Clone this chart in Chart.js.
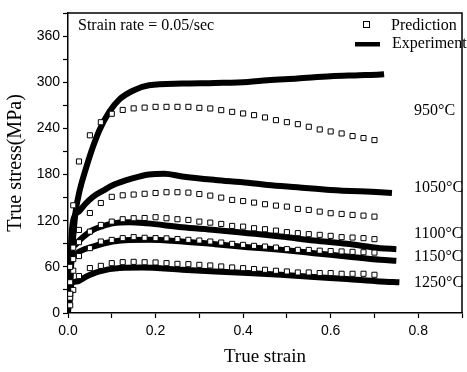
<!DOCTYPE html>
<html>
<head>
<meta charset="utf-8">
<script src="https://cdn.jsdelivr.net/npm/chart.js@4/dist/chart.umd.min.js"></script>
<style>
  html, body { margin: 0; padding: 0; background: #fff; }
  #wrap { width: 467px; height: 372px; }
</style>
</head>
<body>
<div id="wrap"><canvas id="c" width="467" height="372"></canvas></div>
<script>
// ---- Data ----
const temperatures = ['950°C', '1050°C', '1100°C', '1150°C', '1250°C'];

// Experiment curves (strain, stress)
const exp950Strain  = [0, 0.004, 0.008, 0.012, 0.017, 0.027, 0.04, 0.057, 0.072, 0.095, 0.118, 0.148, 0.185, 0.261, 0.336, 0.411, 0.456, 0.524, 0.6, 0.665, 0.713, 0.722];
const exp950Stress  = [0, 30, 70, 100, 130, 160, 186, 216, 238, 262, 278, 289, 296, 298.3, 299.1, 300.4, 302.6, 304.8, 307.8, 309, 310, 310.5];

const exp1050Strain = [0.003, 0.008, 0.015, 0.025, 0.04, 0.057, 0.08, 0.102, 0.13, 0.16, 0.185, 0.22, 0.261, 0.336, 0.411, 0.456, 0.524, 0.6, 0.713, 0.74];
const exp1050Stress = [20, 100, 126, 132, 142, 151, 159, 166, 172, 177, 180, 181, 177.5, 173, 169.4, 166.4, 163.4, 160, 156.9, 156];

const exp1100Strain = [0.003, 0.008, 0.015, 0.027, 0.057, 0.08, 0.102, 0.14, 0.18, 0.261, 0.336, 0.411, 0.486, 0.562, 0.637, 0.713, 0.75];
const exp1100Stress = [20, 82, 88, 95, 108, 113, 116.5, 118, 116.5, 111.5, 108, 103.8, 99.4, 94.2, 89.9, 84.3, 83];

const exp1150Strain = [0.003, 0.008, 0.015, 0.027, 0.057, 0.102, 0.14, 0.185, 0.261, 0.336, 0.411, 0.486, 0.562, 0.637, 0.713, 0.75];
const exp1150Stress = [15, 70, 75, 80, 86.4, 92.9, 95, 95.1, 92.9, 89.5, 85.6, 82.1, 77.8, 73.4, 69.1, 68];

const exp1250Strain = [0.003, 0.008, 0.02, 0.042, 0.072, 0.118, 0.17, 0.261, 0.336, 0.411, 0.486, 0.562, 0.637, 0.713, 0.757];
const exp1250Stress = [10, 38, 41, 47.5, 54, 58.4, 59, 56.2, 54, 51.9, 49.7, 46.7, 44.1, 41, 40];

// Prediction points share one strain list
const predStrain = [0.005, 0.012, 0.025, 0.05, 0.075, 0.1, 0.125, 0.15, 0.175, 0.2, 0.225, 0.25, 0.275, 0.3, 0.325, 0.35, 0.375, 0.4, 0.425, 0.45, 0.475, 0.5, 0.525, 0.55, 0.575, 0.6, 0.625, 0.65, 0.675, 0.7];
const pred950  = [60, 140, 197, 231, 248, 259, 264, 266, 267, 268, 268, 268, 268, 266.7, 265.9, 263.7, 261.5, 259.4, 257.2, 254.2, 250.7, 248.1, 245.5, 242.1, 238.6, 236.0, 233.4, 230.0, 227.4, 224.8];
const pred1050 = [40, 85, 108, 130, 143, 151, 153, 154, 155, 156, 157, 157, 156.5, 154.7, 152.6, 150, 147, 145.5, 143.5, 141.4, 139.6, 138.3, 135.3, 134, 131.8, 129.7, 128.8, 127.5, 126.6, 125.3];
const pred1100 = [25, 70, 92, 105.8, 114.5, 118.8, 121.9, 123.2, 123.5, 124.5, 123.2, 121.9, 121.0, 118.8, 117.5, 115.8, 113.2, 112.3, 110.2, 108.9, 107.1, 105.1, 103.8, 102.5, 101.6, 100.3, 98.6, 98.1, 97.3, 96.0];
const pred1150 = [20, 55, 74, 84.3, 92.9, 95, 97.3, 98.6, 97.8, 97.3, 97, 96.1, 95.1, 94.2, 92.9, 91.6, 89.9, 88.6, 87.3, 86.4, 85.1, 83, 82.1, 82, 81, 80.5, 80, 79.5, 79, 78.5];
const pred1250 = [10, 30, 48, 58.4, 61.3, 64.8, 66.1, 66.5, 66, 65.7, 64.8, 63.9, 63.5, 62.6, 61.8, 60.5, 59.2, 58.3, 57.1, 56.2, 54.9, 54, 52.7, 52.7, 51.9, 51.9, 51, 51, 51, 49.7];

const xTickLabels = ['0.0', '0.2', '0.4', '0.6', '0.8'];
const yTickLabels = [0, 60, 120, 180, 240, 300, 360];

// ---- Build datasets ----
function pts(xs, ys) { return xs.map((x, i) => ({ x: x, y: ys[i] })); }

const expSets = [
  [exp950Strain, exp950Stress], [exp1050Strain, exp1050Stress], [exp1100Strain, exp1100Stress],
  [exp1150Strain, exp1150Stress], [exp1250Strain, exp1250Stress]
];
const predSets = [pred950, pred1050, pred1100, pred1150, pred1250];

const datasets = [];
predSets.forEach((ys, i) => {
  datasets.push({
    label: 'Prediction ' + temperatures[i],
    data: pts(predStrain, ys),
    showLine: false,
    pointStyle: 'rect',
    pointRadius: 3.6,
    pointBorderWidth: 1,
    pointBorderColor: '#000',
    pointBackgroundColor: '#fff',
    order: 0
  });
});
expSets.forEach((s, i) => {
  datasets.push({
    label: 'Experiment ' + temperatures[i],
    data: pts(s[0], s[1]),
    showLine: true,
    borderColor: '#000',
    borderWidth: 6,
    pointRadius: 0,
    cubicInterpolationMode: 'monotone',
    order: 1
  });
});

// ---- Annotation / legend / frame plugin ----
const deco = {
  id: 'deco',
  afterDraw(chart) {
    const ctx = chart.ctx;
    const a = chart.chartArea;
    ctx.save();
    // frame top and right
    ctx.strokeStyle = '#000';
    ctx.lineWidth = 1.5;
    ctx.beginPath();
    ctx.moveTo(a.left, a.top);
    ctx.lineTo(a.right, a.top);
    ctx.lineTo(a.right, a.bottom);
    ctx.stroke();

    ctx.fillStyle = '#000';
    ctx.textBaseline = 'alphabetic';
    ctx.textAlign = 'left';
    ctx.font = '16px "Liberation Serif"';
    ctx.fillText('Strain rate = 0.05/sec', 78, 30);

    // legend
    ctx.lineWidth = 1;
    ctx.fillStyle = '#fff';
    ctx.fillRect(363.5, 21.5, 6, 6);
    ctx.strokeRect(363.5, 21.5, 6, 6);
    ctx.fillStyle = '#000';
    ctx.fillText('Prediction', 391, 30);
    ctx.fillRect(355, 42, 25, 4.5);
    ctx.fillText('Experiment', 392, 48);

    // temperature labels
    const labelPos = [115, 192, 238, 261, 287];
    temperatures.forEach((t, i) => {
      ctx.fillText(t, 414, labelPos[i]);
    });
    ctx.restore();
  }
};

new Chart(document.getElementById('c'), {
  type: 'scatter',
  data: { datasets: datasets },
  plugins: [deco],
  options: {
    responsive: false,
    devicePixelRatio: 1,
    animation: false,
    layout: { padding: { left: 0, right: 1, top: 13, bottom: 0 } },
    plugins: { legend: { display: false }, tooltip: { enabled: false } },
    scales: {
      x: {
        type: 'linear',
        min: 0, max: 0.9,
        afterFit(s) { s.height = 59; },
        border: { display: true, color: '#000', width: 1.5 },
        grid: { display: true, drawOnChartArea: false, drawTicks: true, tickLength: 5, tickColor: '#000', tickWidth: 1.2 },
        ticks: {
          stepSize: 0.1,
          autoSkip: false,
          maxRotation: 0,
          padding: 5,
          color: '#000',
          font: { family: 'Liberation Sans', size: 14 },
          callback(v) {
            const k = Math.round(v * 10);
            if (k % 2 === 0) {
              const lab = (k / 10).toFixed(1);
              return xTickLabels.includes(lab) ? lab : '';
            }
            return '';
          }
        },
        title: { display: true, text: 'True strain', color: '#000', font: { family: 'Liberation Serif', size: 19 }, padding: { top: 0, bottom: 4 } }
      },
      y: {
        type: 'linear',
        min: 0, max: 390,
        afterFit(s) { s.width = 68; },
        border: { display: true, color: '#000', width: 1.5 },
        grid: { display: true, drawOnChartArea: false, drawTicks: true, tickLength: 5, tickColor: '#000', tickWidth: 1.2 },
        ticks: {
          stepSize: 30,
          autoSkip: false,
          padding: 3,
          color: '#000',
          font: { family: 'Liberation Sans', size: 14 },
          callback(v) { return yTickLabels.includes(v) ? String(v) : ''; }
        },
        title: { display: true, text: 'True stress(MPa)', color: '#000', font: { family: 'Liberation Serif', size: 20 }, padding: { top: 4, bottom: 0 } }
      }
    }
  }
});
</script>
</body>
</html>
